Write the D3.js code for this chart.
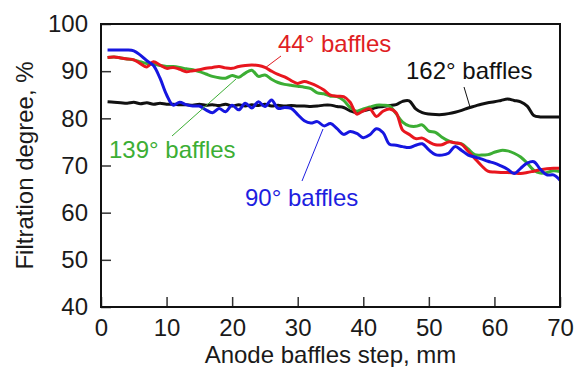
<!DOCTYPE html>
<html>
<head>
<meta charset="utf-8">
<script src="https://cdn.jsdelivr.net/npm/d3@7"></script>
<style>
  body { margin: 0; background: #fff; }
  text { font-family: "Liberation Sans", Arial, sans-serif; }
</style>
</head>
<body>
<div id="chart"></div>
<script>
// anode baffles step, mm
const steps = d3.range(1, 71);

// filtration degree, % (1 mm steps)
const baffles44 = [92.9, 93.0, 92.8, 92.6, 92.4, 91.6, 90.9, 92.0, 91.3, 90.6,
  90.8, 90.4, 89.9, 90.1, 90.3, 90.6, 90.8, 91.0, 90.7, 90.6,
  91.0, 91.2, 91.3, 91.2, 90.8, 90.0, 89.3, 88.8, 88.0, 87.4,
  87.8, 87.4, 86.8, 86.0, 84.9, 84.7, 84.6, 83.4, 80.9, 81.6,
  82.0, 80.4, 81.5, 82.0, 81.2, 77.5, 76.6, 75.7, 75.8, 75.0,
  74.4, 74.4, 75.0, 74.8, 74.5, 73.0, 71.5, 70.0, 68.8, 68.6,
  68.5, 68.5, 68.4, 68.3, 68.5, 68.8, 69.1, 69.3, 69.4, 69.4];

const baffles90 = [94.5, 94.5, 94.5, 94.5, 94.3, 93.4, 92.2, 91.2, 88.5, 85.0,
  82.8, 83.4, 82.9, 82.6, 82.6, 81.8, 81.2, 82.1, 81.4, 82.8,
  81.8, 83.2, 82.2, 83.5, 82.5, 83.9, 82.1, 82.3, 82.1, 80.8,
  79.5, 79.0, 79.3, 78.4, 78.9, 77.8, 76.6, 77.2, 76.8, 75.9,
  76.5, 77.8, 77.0, 74.5, 74.3, 74.0, 73.8, 74.3, 74.6, 73.3,
  72.3, 72.2, 72.6, 74.0, 73.2, 72.2, 71.8, 71.4, 70.9, 70.5,
  69.9, 69.2, 68.3, 69.4, 70.5, 70.8, 69.2, 68.0, 68.0, 66.9];

const baffles139 = [92.9, 93.0, 92.8, 92.6, 92.4, 92.0, 91.6, 91.5, 91.2, 91.0,
  91.0, 90.8, 90.5, 90.3, 89.9, 89.4, 88.9, 88.6, 88.5, 89.1,
  88.7, 89.6, 90.2, 88.9, 89.2, 88.3, 87.6, 87.2, 87.0, 86.8,
  86.6, 86.3, 85.4, 85.2, 84.7, 84.6, 83.8, 82.3, 81.5, 82.0,
  82.4, 82.8, 82.8, 82.6, 81.0, 79.2, 78.4, 78.3, 78.6, 77.3,
  77.0, 76.0, 75.2, 74.8, 74.6, 73.5, 72.3, 72.2, 72.3, 72.8,
  73.2, 73.1, 72.6, 71.8, 70.5, 69.0, 68.4, 68.5, 68.9, 68.7];

const baffles162 = [83.5, 83.4, 83.3, 83.2, 83.4, 83.1, 83.3, 83.0, 83.2, 83.0,
  83.0, 82.9, 82.9, 82.8, 83.0, 82.8, 82.9, 82.7, 83.0, 82.6,
  82.9, 82.6, 82.9, 82.7, 83.0, 82.6, 82.8, 82.6, 82.7, 82.6,
  82.6, 82.5, 82.6, 82.8, 82.8, 82.5, 82.3, 81.6, 81.2, 81.6,
  81.9, 82.3, 82.5, 82.7, 82.9, 83.6, 83.7, 82.0, 81.2, 80.9,
  80.8, 80.8, 81.0, 81.3, 81.7, 82.2, 82.6, 83.0, 83.3, 83.5,
  83.8, 84.1, 83.8, 83.5, 82.6, 80.6, 80.3, 80.3, 80.3, 80.3];

const xTicks = [0, 10, 20, 30, 40, 50, 60, 70];
const yTicks = [40, 50, 60, 70, 80, 90, 100];

const width = 574, height = 367;
const margin = { top: 24, right: 14, bottom: 60, left: 101 };
const w = width - margin.left - margin.right;
const h = height - margin.top - margin.bottom;
const fs = "24px";

const svg = d3.select("#chart").append("svg")
  .attr("width", width)
  .attr("height", height);

const g = svg.append("g")
  .attr("transform", `translate(${margin.left},${margin.top})`);

const x = d3.scaleLinear().domain([0, 70]).range([0, w]);
const y = d3.scaleLinear().domain([40, 100]).range([h, 0]);

// axes, ticks pointing inward
const xAxis = g.append("g")
  .attr("transform", `translate(0,${h})`)
  .call(d3.axisBottom(x).tickValues(xTicks).tickSizeInner(-10).tickSizeOuter(0).tickPadding(12));
const yAxis = g.append("g")
  .call(d3.axisLeft(y).tickValues(yTicks).tickSizeInner(-10).tickSizeOuter(0).tickPadding(13));

[xAxis, yAxis].forEach(a => {
  a.select(".domain").remove();
  a.selectAll(".tick line").attr("stroke", "#333").attr("stroke-width", 1.5);
  a.selectAll(".tick text").attr("fill", "#1a1a1a").style("font-size", fs);
});

const line = d3.line()
  .x((d, i) => x(steps[i]))
  .y(d => y(d))
  .curve(d3.curveCatmullRom);

const series = [
  { values: baffles162, color: "#111111" },
  { values: baffles139, color: "#3cae34" },
  { values: baffles44, color: "#e8161e" },
  { values: baffles90, color: "#1616e0" }
];

g.selectAll(".series")
  .data(series)
  .enter().append("path")
  .attr("class", "series")
  .attr("fill", "none")
  .attr("stroke", d => d.color)
  .attr("stroke-width", 3)
  .attr("stroke-linejoin", "round")
  .attr("d", d => line(d.values));

// frame
g.append("rect")
  .attr("width", w).attr("height", h)
  .attr("fill", "none")
  .attr("stroke", "#111")
  .attr("stroke-width", 2);

// annotations (pixel positions in svg space)
const labels = [
  { text: "44° baffles", color: "#e01e24", tx: 278, ty: 52, l: [265, 68, 281, 56] },
  { text: "162° baffles", color: "#111111", tx: 406, ty: 79, l: [470, 107, 464, 87] },
  { text: "139° baffles", color: "#3cae34", tx: 109, ty: 158, l: [172, 136, 236, 79] },
  { text: "90° baffles", color: "#1e1ee0", tx: 245, ty: 206, l: [323, 129, 302, 181] }
];

labels.forEach(d => {
  svg.append("line")
    .attr("x1", d.l[0]).attr("y1", d.l[1])
    .attr("x2", d.l[2]).attr("y2", d.l[3])
    .attr("stroke", d.color)
    .attr("stroke-width", 1);
  svg.append("text")
    .attr("x", d.tx).attr("y", d.ty)
    .attr("fill", d.color)
    .style("font-size", fs)
    .text(d.text);
});

// axis titles
svg.append("text")
  .attr("x", margin.left + w / 2)
  .attr("y", 363)
  .attr("text-anchor", "middle")
  .attr("fill", "#1a1a1a")
  .style("font-size", fs)
  .text("Anode baffles step, mm");

svg.append("text")
  .attr("transform", `translate(33,${margin.top + h / 2}) rotate(-90)`)
  .attr("text-anchor", "middle")
  .attr("fill", "#1a1a1a")
  .style("font-size", fs)
  .text("Filtration degree, %");
</script>
</body>
</html>
